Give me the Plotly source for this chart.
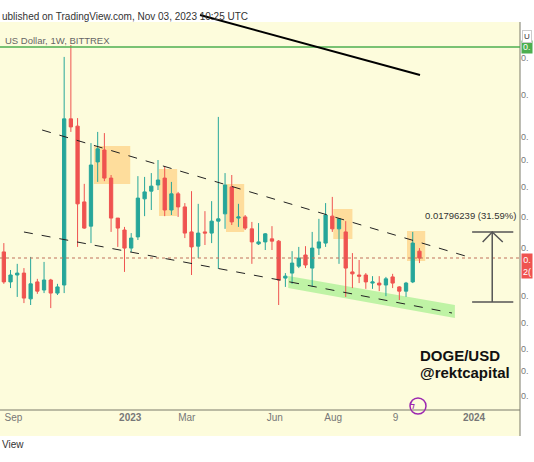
import plotly.graph_objects as go
import pandas as pd

# weekly DOGE/USD candles (prices in USD)
dates = pd.date_range("2022-08-22", periods=63, freq="7D")
opens = [0.0699,0.0621,0.0639,0.0644,0.0577,0.0621,0.0600,0.0626,0.0592,0.0613,
         0.1045,0.1026,0.0829,0.0766,0.0933,0.0964,0.0891,0.0787,0.0756,0.0709,
         0.0738,0.0837,0.0857,0.0873,0.0891,0.0808,0.0850,0.0816,0.0751,0.0714,
         0.0751,0.0748,0.0779,0.0798,0.0868,0.0787,0.0790,0.0759,0.0720,0.0725,
         0.0733,0.0727,0.0631,0.0644,0.0662,0.0691,0.0657,0.0709,0.0722,0.0792,
         0.0759,0.0751,0.0647,0.0639,0.0639,0.0618,0.0618,0.0613,0.0634,0.0608,
         0.0597,0.0621,0.0701]
highs = [0.0722,0.0652,0.0668,0.0657,0.0686,0.0629,0.0673,0.0629,0.0616,0.1206,
         0.1237,0.1047,0.0876,0.0982,0.1011,0.1008,0.0899,0.0787,0.0764,0.0748,
         0.0896,0.0894,0.0904,0.0938,0.0922,0.0881,0.0855,0.0826,0.0857,0.0824,
         0.0805,0.0831,0.1050,0.0904,0.0899,0.0824,0.0795,0.0777,0.0774,0.0748,
         0.0766,0.0730,0.0644,0.0701,0.0712,0.0714,0.0751,0.0785,0.0826,0.0842,
         0.0787,0.0779,0.0696,0.0678,0.0644,0.0636,0.0636,0.0634,0.0642,0.0610,
         0.0621,0.0751,0.0709]
lows = [0.0616,0.0605,0.0582,0.0566,0.0561,0.0590,0.0592,0.0553,0.0587,0.0592,
        0.1011,0.0712,0.0759,0.0722,0.0881,0.0883,0.0751,0.0712,0.0647,0.0699,
        0.0730,0.0792,0.0808,0.0860,0.0792,0.0795,0.0790,0.0735,0.0639,0.0683,
        0.0717,0.0722,0.0655,0.0759,0.0769,0.0764,0.0756,0.0668,0.0717,0.0704,
        0.0704,0.0561,0.0608,0.0616,0.0657,0.0657,0.0608,0.0691,0.0712,0.0751,
        0.0668,0.0582,0.0605,0.0618,0.0603,0.0603,0.0597,0.0584,0.0605,0.0574,
        0.0582,0.0618,0.0670]
closes = [0.0621,0.0639,0.0644,0.0579,0.0616,0.0597,0.0626,0.0592,0.0608,0.1045,
          0.1024,0.0824,0.0761,0.0925,0.0967,0.0891,0.0787,0.0761,0.0709,0.0735,
          0.0839,0.0855,0.0870,0.0886,0.0808,0.0850,0.0816,0.0748,0.0712,0.0748,
          0.0748,0.0779,0.0785,0.0873,0.0777,0.0790,0.0761,0.0725,0.0725,0.0746,
          0.0727,0.0626,0.0636,0.0670,0.0683,0.0665,0.0709,0.0725,0.0795,0.0759,
          0.0785,0.0657,0.0642,0.0636,0.0621,0.0621,0.0613,0.0629,0.0618,0.0597,
          0.0618,0.0722,0.0683]

xtick_dates = ["2022-09-01","2023-01-01","2023-03-01","2023-06-01","2023-08-01","2023-10-05","2023-12-26"]
xtick_text = ["Sep","<b>2023</b>","Mar","Jun","Aug","9","<b>2024</b>"]
ytick_vals = [0.1203,0.1107,0.0998,0.0938,0.0868,0.0790,0.0709,0.0584,0.0514,0.0447,0.0389,0.0324]

X0 = pd.Timestamp("2022-08-18")
def xd(px):
    return (X0 + pd.Timedelta(days=round(px / 0.957))).strftime("%Y-%m-%d")
def yp(py):
    return round(0.1354 - 0.00026 * py, 6)

TEAL, RED = "#26a69a", "#ef5350"
fig = go.Figure(go.Candlestick(
    x=dates, open=opens, high=highs, low=lows, close=closes,
    increasing=dict(line=dict(color=TEAL, width=1), fillcolor=TEAL),
    decreasing=dict(line=dict(color=RED, width=1), fillcolor=RED),
    whiskerwidth=0, showlegend=False, hoverinfo="skip"))

shapes = []
shapes.append(dict(type="rect", xref="paper", yref="paper", x0=0, x1=1, y0=-26/388, y1=0,
                   fillcolor="#fdfcdc", line_width=0, layer="below"))
shapes.append(dict(type="line", xref="paper", yref="paper", x0=0, x1=1, y0=0, y1=0,
                   line=dict(color="#7a7a6a", width=1)))
shapes.append(dict(type="line", xref="paper", yref="paper", x0=1, x1=1, y0=-26/388, y1=1,
                   line=dict(color="#7a7a6a", width=1)))
for (a, b, c, d) in [(94,130,146,184),(159,177,169,216),(226,244,184,232),(333,352,209,239),(407,425,231,261)]:
    shapes.append(dict(type="rect", x0=xd(a), x1=xd(b), y0=yp(c), y1=yp(d),
                       fillcolor="rgba(255,183,77,0.45)", line_width=0, layer="below"))
shapes.append(dict(type="path", path=f"M{xd(288)},{yp(276)}L{xd(455)},{yp(305)}L{xd(455)},{yp(318)}L{xd(288)},{yp(288)}Z",
                   fillcolor="rgba(140,235,120,0.55)", line_width=0, layer="below"))
shapes.append(dict(type="line", xref="paper", x0=0, x1=1, y0=yp(47), y1=yp(47), line=dict(color="#4caf50", width=1.5)))
shapes.append(dict(type="line", xref="paper", x0=0, x1=1, y0=yp(258), y1=yp(258), line=dict(color="#c0705a", width=1, dash="dot")))
for (a, b, c, d) in [(42,130,465,256),(24,232,290,282),(290,282,452,313)]:
    shapes.append(dict(type="line", x0=xd(a), y0=yp(b), x1=xd(c), y1=yp(d),
                       line=dict(color="#222", width=1, dash="dash")))
shapes.append(dict(type="line", xref="paper", yref="paper", x0=200/520, y0=(410-15)/388, x1=420/520, y1=(410-75)/388,
                   line=dict(color="black", width=2)))
G = "#555"
shapes += [dict(type="line", x0=xd(472), x1=xd(513), y0=yp(232), y1=yp(232), line=dict(color=G, width=1.5)),
           dict(type="line", x0=xd(472), x1=xd(513), y0=yp(302), y1=yp(302), line=dict(color=G, width=1.5)),
           dict(type="line", x0=xd(492), x1=xd(492), y0=yp(232), y1=yp(302), line=dict(color=G, width=1.5)),
           dict(type="path", path=f"M{xd(482)},{yp(242)}L{xd(492)},{yp(232)}L{xd(502)},{yp(242)}",
                line=dict(color=G, width=1.5))]
shapes.append(dict(type="circle", xref="paper", yref="paper", x0=410/520, x1=426/520,
                   y0=(410-414)/388, y1=(410-398)/388, line=dict(color="#9c27b0", width=1.5)))

ann = [
    dict(xref="paper", yref="paper", x=518/520, y=(410-215)/388, text="0.01796239 (31.59%)", xanchor="right",
         showarrow=False, font=dict(size=9.5, color="#333")),
    dict(x=xd(418), y=yp(355), text="<b>DOGE/USD</b>", xanchor="left", showarrow=False,
         font=dict(size=15, color="#111")),
    dict(x=xd(418), y=yp(372), text="<b>@rektcapital</b>", xanchor="left", showarrow=False,
         font=dict(size=15, color="#111")),
    dict(xref="paper", yref="paper", x=418/520, y=(410-406)/388, text="ϟ", showarrow=False, yshift=-7,
         font=dict(size=10, color="#9c27b0", family="DejaVu Sans")),
    dict(xref="paper", yref="paper", x=0, y=(410-9)/388, xanchor="left", showarrow=False,
         text="ublished on TradingView.com, Nov 03, 2023 10:25 UTC", font=dict(size=10, color="#333")),
    dict(xref="paper", yref="paper", x=3/520, y=(410-33)/388, xanchor="left", showarrow=False,
         text="US Dollar, 1W, BITTREX", font=dict(size=9.5, color="#666")),
    dict(xref="paper", yref="paper", x=0, y=(410-452)/388, xanchor="left", showarrow=False,
         text="View", font=dict(size=10, color="#333")),
    dict(xref="paper", x=1.002, y=yp(47), xanchor="left", showarrow=False, text="0.",
         bgcolor="#4caf50", font=dict(size=9, color="white"), borderpad=1),
    dict(xref="paper", x=1.002, y=yp(266), xanchor="left", showarrow=False, text="0.<br>2(",
         bgcolor="#ef5350", font=dict(size=9, color="white"), borderpad=1),
    dict(xref="paper", yref="paper", x=1.004, y=(410-30)/388, xanchor="left", showarrow=False, text="U",
         bgcolor="white", bordercolor="#ccc", font=dict(size=8, color="#333"), borderpad=1),
]

fig.update_layout(
    width=534, height=462, margin=dict(l=0, r=14, t=22, b=52, autoexpand=False),
    paper_bgcolor="white", plot_bgcolor="#fdfcdc",
    shapes=shapes, annotations=ann,
    xaxis=dict(range=[xd(0), xd(520)], rangeslider=dict(visible=False), showgrid=False, automargin=False,
               tickvals=xtick_dates, ticktext=xtick_text, ticks="", zeroline=False,
               tickfont=dict(size=10, color="#777", family="Liberation Sans")),
    yaxis=dict(range=[yp(410), yp(22)], side="right", showgrid=False, zeroline=False, automargin=False,
               tickvals=ytick_vals, ticktext=["0."] * len(ytick_vals), ticks="",
               tickfont=dict(size=9, color="#777")),
    font=dict(family="Liberation Sans"),
)
fig.write_html("out.html", config={"displayModeBar": False},
               post_script="document.body.style.margin='0';document.body.style.overflow='hidden';")
